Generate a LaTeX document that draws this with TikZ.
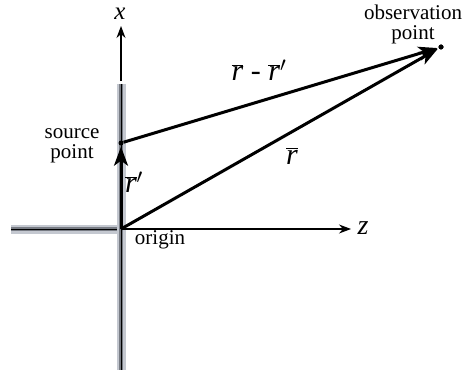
\documentclass[tikz,border=0pt]{standalone}
\usepackage{fontspec}
\setmainfont{Liberation Serif}
\usetikzlibrary{arrows.meta}
\definecolor{barlight}{RGB}{196,200,208}
\definecolor{barmid}{RGB}{120,124,132}
\tikzset{
  lbl/.style={font=\fontsize{21}{20}\selectfont, inner sep=0pt, align=center},
  big/.style={font=\fontsize{30}{30}\selectfont, inner sep=0pt},
  axis/.style={line width=1.1pt, -{Stealth[length=12pt,width=9pt]}},
  vec/.style={line width=3pt, -{Stealth[length=19pt,width=14pt,inset=5pt]}, shorten >=1pt},
  bar/.style={line width=9pt, draw=barlight},
  barin/.style={line width=4pt, draw=barmid},
  barc/.style={line width=1pt, draw=black},
  dot/.style={circle, fill=black, inner sep=0pt, minimum size=5pt}
}
\begin{document}
\begin{tikzpicture}[x=1pt,y=-1pt]
\useasboundingbox (0,0) rectangle (465,374);
% coordinates
\coordinate (O) at (121,229);
\coordinate (vtop) at (121,84);
\coordinate (vbot) at (121,370);
\coordinate (hleft) at (11,229);
\coordinate (xs) at (121,81);
\coordinate (xtip) at (121,26);
\coordinate (ztip) at (351,229);
\node[dot] (S) at (121,143) {};
\node[dot] (P) at (441,47) {};
% bars
\draw[bar] (hleft) -- ([xshift=-4.5pt]O);
\draw[barin] (hleft) -- ([xshift=-4.5pt]O);
\draw[barc] (hleft) -- (O);
\draw[bar] (vtop) -- (vbot);
\draw[barin] (vtop) -- (vbot);
\draw[barc] (vtop) -- (vbot);
% axes
\draw[axis] (xs) -- (xtip);
\draw[axis] (O) -- (ztip);
\node[big, font=\fontsize{25}{25}\selectfont\itshape] (xl) at (120,14) {x};
\node[big, font=\fontsize{28}{28}\selectfont\itshape] (zl) at (363,228) {z};
% vectors
\draw[vec] (O) -- (S);
\draw[vec] (S) -- (P);
\draw[vec] (O) -- (P);
\node[dot] at (S) {};
\node[dot] at (P) {};
% labels
\node[lbl] (sp) at (72,146) {source\\point};
\node[lbl] (op) at (413,24) {observation\\point};
\node[lbl] (or) at (160,240) {origin};
\node[big] (rp) at (134,182) {$\overline{\textit{r}}'$};
\node[big] (rr) at (259,70) {$\overline{\textit{r}}$ - $\overline{\textit{r}}'$};
\node[big] (r) at (292,156) {$\overline{\textit{r}}$};
\end{tikzpicture}
\end{document}
